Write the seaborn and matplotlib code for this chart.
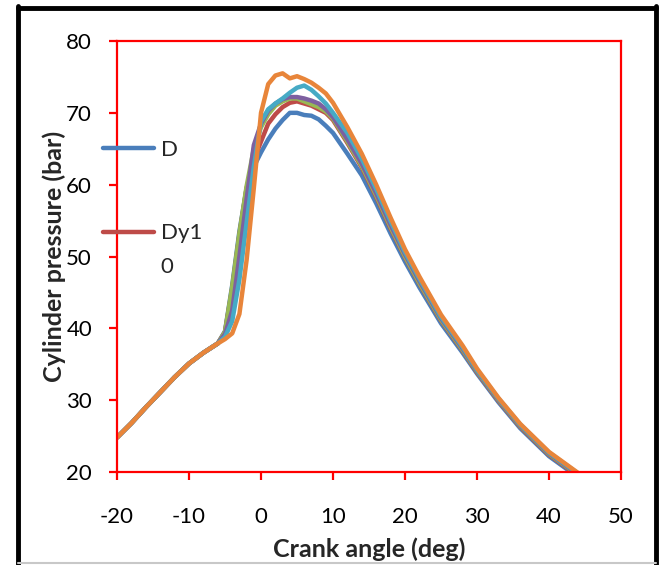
import numpy as np
import pandas as pd
import matplotlib
matplotlib.use("Agg")
import matplotlib.pyplot as plt
import seaborn as sns
from matplotlib.lines import Line2D

# Kurbelwinkel (deg)
crank = [-20, -18, -16, -14, -12, -10, -8, -6, -5, -4, -3, -2, -1, 0, 1, 2, 3, 4, 5, 6,
         7, 8, 9, 10, 12, 14, 16, 18, 20, 22, 25, 28, 30, 33, 36, 40, 44]

# Zylinderdruck (bar) je Kraftstoff
p_D = [24.8, 26.8, 29.0, 31.1, 33.2, 35.1, 36.6, 37.9, 39.6, 46.0, 53.5, 59.5, 62.5, 64.5, 66.3, 67.8,
       69.0, 70.0, 70.0, 69.7, 69.6, 69.1, 68.2, 67.2, 64.3, 61.3, 57.4, 53.2, 49.3, 45.7, 40.7,
       36.6, 33.7, 29.7, 26.1, 22.2, 19.3]
p_Dy10 = [24.8, 26.8, 29.0, 31.1, 33.2, 35.1, 36.6, 37.9, 39.5, 45.5, 53.0, 59.5, 63.5, 66.0, 68.5, 69.8,
          70.8, 71.4, 71.6, 71.3, 71.0, 70.5, 70.0, 69.0, 65.8, 62.4, 58.3, 53.9, 49.9, 46.2, 41.1,
          36.9, 33.9, 29.9, 26.3, 22.4, 19.5]
p_Dy20 = [24.8, 26.8, 29.0, 31.1, 33.2, 35.1, 36.6, 37.9, 39.5, 45.8, 53.2, 59.8, 65.0, 68.0, 69.8, 71.0,
          71.6, 72.0, 72.0, 71.6, 71.2, 70.8, 70.2, 69.2, 66.0, 62.6, 58.5, 54.1, 50.0, 46.3, 41.2,
          37.0, 34.0, 30.0, 26.4, 22.5, 19.6]
p_Dy30 = [24.8, 26.8, 29.0, 31.1, 33.2, 35.1, 36.6, 37.9, 39.2, 42.5, 50.0, 58.0, 65.5, 68.5, 70.3, 71.3,
          71.9, 72.2, 72.2, 72.0, 71.7, 71.3, 70.5, 69.4, 66.3, 62.9, 58.8, 54.4, 50.3, 46.6, 41.4,
          37.2, 34.1, 30.1, 26.5, 22.6, 19.7]
p_Dy40 = [24.8, 26.8, 29.0, 31.1, 33.2, 35.1, 36.6, 37.9, 38.8, 41.0, 46.8, 54.7, 62.5, 68.8, 70.5, 71.3,
          72.0, 72.8, 73.5, 73.8, 73.2, 72.3, 71.3, 70.0, 67.2, 63.6, 59.4, 54.9, 50.6, 46.9, 41.6,
          37.4, 34.2, 30.2, 26.6, 22.7, 19.8]
p_Dy50 = [24.8, 26.8, 29.0, 31.1, 33.2, 35.1, 36.6, 37.9, 38.5, 39.3, 42.0, 49.5, 59.5, 70.0, 74.0, 75.2,
          75.5, 74.8, 75.1, 74.7, 74.2, 73.5, 72.7, 71.4, 68.0, 64.3, 60.0, 55.4, 51.0, 47.2, 41.9,
          37.6, 34.4, 30.3, 26.7, 22.8, 19.9]

fuels = ["D", "Dy10", "Dy20", "Dy30", "Dy40", "Dy50"]
colors = ["#4A7EBB", "#BE4B48", "#98B954", "#7D60A0", "#46AAC5", "#E8853A"]

df = pd.concat([
    pd.DataFrame({"crank": crank, "pressure": p, "fuel": f})
    for f, p in zip(fuels, [p_D, p_Dy10, p_Dy20, p_Dy30, p_Dy40, p_Dy50])
])

sns.set_style("white")
plt.rcParams["font.family"] = ["Lato", "DejaVu Sans"]
plt.rcParams["axes.unicode_minus"] = False

fig = plt.figure(figsize=(6.6, 5.65), dpi=100)
ax = fig.add_axes([0.1773, 0.1646, 0.7636, 0.7628])

sns.lineplot(data=df, x="crank", y="pressure", hue="fuel", palette=colors,
             hue_order=fuels, sort=False, lw=3.2, legend=False, ax=ax)

ax.set_xlim(-20, 50)
ax.set_ylim(20, 80)
ax.set_xticks(range(-20, 51, 10))
ax.set_yticks(range(20, 81, 10))

for s in ax.spines.values():
    s.set_color("red")
    s.set_linewidth(1.6)
ax.tick_params(axis="both", direction="out", length=6, width=1.6, color="red",
               labelsize=16, labelcolor="black", bottom=True, left=True)
ax.tick_params(axis="x", pad=19)
ax.tick_params(axis="y", pad=12)

ax.set_xlabel("Crank angle (deg)", fontsize=18, fontweight="bold", labelpad=8)
ax.set_ylabel("Cylinder pressure (bar)", fontsize=18, fontweight="bold", labelpad=0)

# Legende (abgeschnitten wie im Original)
lines = ax.get_lines()
leg = ax.legend([lines[0], lines[1]], ["D", "Dy1"], loc="upper left",
                bbox_to_anchor=(-0.050, 0.796), frameon=False, fontsize=16,
                handlelength=2.3, handletextpad=0.3, labelspacing=2.85, borderpad=0)
fig.text(0.243, 0.527, "0", fontsize=16, va="center", ha="left")

# Rahmen
frame_kw = dict(transform=fig.transFigure, color="black", lw=3.5)
fig.add_artist(Line2D([0.027, 0.027], [0, 0.99], **frame_kw))
fig.add_artist(Line2D([0.027, 0.994], [0.986, 0.986], **frame_kw))
fig.add_artist(Line2D([0.994, 0.994], [0, 0.99], **frame_kw))
fig.add_artist(Line2D([0.027, 0.994], [0.004, 0.004], transform=fig.transFigure,
                      color="#c8c8c8", lw=1.5))

fig.savefig("out.png", dpi=100)
